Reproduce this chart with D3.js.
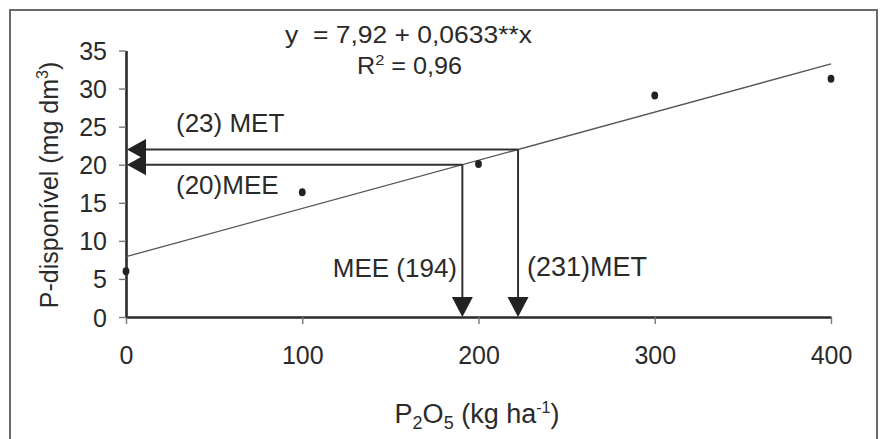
<!DOCTYPE html>
<html>
<head>
<meta charset="utf-8">
<script src="https://cdn.jsdelivr.net/npm/d3@7"></script>
<style>
  body { margin: 0; background: #fff; }
  svg { display: block; font-family: "Liberation Sans", Arial, sans-serif; }
</style>
</head>
<body>
<svg></svg>
<script>
// Data
const doses = [0, 100, 200, 300, 400];            // P2O5 (kg/ha)
const pAvail = [6.0, 16.4, 20.1, 29.1, 31.3];     // P-disponível (mg/dm3)
const xTicks = [0, 100, 200, 300, 400];
const yTicks = [0, 5, 10, 15, 20, 25, 30, 35];
const intercept = 7.92;
const slope = 0.0633;
const arrowLevels = [22, 20];                    // MET, MEE levels on the y axis
const levelLabels = ["(23) MET", "(20)MEE"];
const doseLabels = ["(231)MET", "MEE (194)"];

const width = 883;
const height = 439;

const svg = d3.select("svg")
  .attr("width", width)
  .attr("height", height);

const ink = "#2a2a2a";

// outer frame
svg.append("rect")
  .attr("x", 10).attr("y", 10)
  .attr("width", 867).attr("height", 460)
  .attr("fill", "none")
  .attr("stroke", "#6a6a6a")
  .attr("stroke-width", 2);

const x = d3.scaleLinear().domain([0, 400]).range([126, 831]);
const y = d3.scaleLinear().domain([0, 35]).range([317, 50.5]);

// axes
const xAxis = svg.append("g")
  .attr("transform", `translate(0, ${y(0)})`)
  .call(d3.axisBottom(x).tickValues(xTicks).tickSize(7).tickPadding(22).tickSizeOuter(0));

const yAxis = svg.append("g")
  .attr("transform", `translate(${x(0)}, 0)`)
  .call(d3.axisLeft(y).tickValues(yTicks).tickSize(7).tickPadding(12).tickSizeOuter(0));

[xAxis, yAxis].forEach(g => {
  g.select(".domain").attr("stroke", ink).attr("stroke-width", 2.6);
  g.selectAll(".tick line").attr("stroke", "#777").attr("stroke-width", 1.4);
  g.selectAll(".tick text")
    .attr("fill", ink)
    .style("font-size", "25px")
    .style("font-family", "Liberation Sans, Arial, sans-serif");
});
yAxis.selectAll(".tick text").attr("dy", "0.36em");

// regression line
svg.append("line")
  .attr("x1", x(0)).attr("y1", y(intercept))
  .attr("x2", x(400)).attr("y2", y(intercept + slope * 400))
  .attr("stroke", "#555")
  .attr("stroke-width", 1.3);

// reference arrows (from the fitted line to both axes)
arrowLevels.forEach(lv => {
  const xv = (lv - intercept) / slope;
  svg.append("line")
    .attr("x1", x(xv)).attr("y1", y(lv))
    .attr("x2", x(0) + 10).attr("y2", y(lv))
    .attr("stroke", "#333").attr("stroke-width", 2);
  svg.append("line")
    .attr("x1", x(xv)).attr("y1", y(lv))
    .attr("x2", x(xv)).attr("y2", y(0) - 10)
    .attr("stroke", "#333").attr("stroke-width", 2);
  // left-pointing head at the y axis
  svg.append("path")
    .attr("d", `M${x(0) + 1},${y(lv)} L${x(0) + 20},${y(lv) - 10.5} L${x(0) + 20},${y(lv) + 10.5} Z`)
    .attr("fill", "#222");
  // down-pointing head at the x axis
  svg.append("path")
    .attr("d", `M${x(xv)},${y(0)} L${x(xv) - 10.5},${y(0) - 20} L${x(xv) + 10.5},${y(0) - 20} Z`)
    .attr("fill", "#222");
});

// data points
svg.selectAll(".pt")
  .data(doses.map((d, i) => [d, pAvail[i]]))
  .enter()
  .append("ellipse")
  .attr("class", "pt")
  .attr("cx", d => x(d[0]))
  .attr("cy", d => y(d[1]))
  .attr("rx", 3.4)
  .attr("ry", 4)
  .attr("fill", "#222");

// annotations
const label = (tx, ty, str, anchor, size) => svg.append("text")
  .attr("x", tx).attr("y", ty)
  .attr("text-anchor", anchor || "start")
  .attr("fill", ink)
  .style("font-size", (size || 26) + "px")
  .text(str);

label(176, 132, levelLabels[0]);
label(176, 194, levelLabels[1]);
label(527, 276, doseLabels[0], "start", 27);
label(457, 277, doseLabels[1], "end");

// equation (a bit stretched horizontally like in the original)
svg.append("text")
  .attr("x", 285).attr("y", 43)
  .attr("fill", ink)
  .style("font-size", "23px")
  .attr("textLength", 247)
  .attr("lengthAdjust", "spacingAndGlyphs")
  .text(`y\u00a0 = ${String(intercept).replace(".", ",")} + ${String(slope).replace(".", ",")}**x`);

const r2 = svg.append("text")
  .attr("x", 357).attr("y", 74)
  .attr("fill", ink)
  .style("font-size", "23px")
  .attr("textLength", 105)
  .attr("lengthAdjust", "spacingAndGlyphs");
r2.append("tspan").text("R");
r2.append("tspan").attr("dy", -9).style("font-size", "15px").text("2");
r2.append("tspan").attr("dy", 9).text(" = 0,96");

// axis titles
const xt = svg.append("text")
  .attr("x", 477).attr("y", 423)
  .attr("text-anchor", "middle")
  .attr("fill", ink)
  .style("font-size", "27px");
xt.append("tspan").text("P");
xt.append("tspan").attr("dy", 6).style("font-size", "18px").text("2");
xt.append("tspan").attr("dy", -6).text("O");
xt.append("tspan").attr("dy", 6).style("font-size", "18px").text("5");
xt.append("tspan").attr("dy", -6).text(" (kg ha");
xt.append("tspan").attr("dy", -10).style("font-size", "16px").text("-1");
xt.append("tspan").attr("dy", 10).text(")");

const yt = svg.append("text")
  .attr("transform", "rotate(-90)")
  .attr("x", -185).attr("y", 58)
  .attr("text-anchor", "middle")
  .attr("fill", ink)
  .style("font-size", "25px");
yt.append("tspan").text("P-disponível (mg dm");
yt.append("tspan").attr("dy", -10).style("font-size", "16px").text("3");
yt.append("tspan").attr("dy", 10).text(")");
</script>
</body>
</html>
